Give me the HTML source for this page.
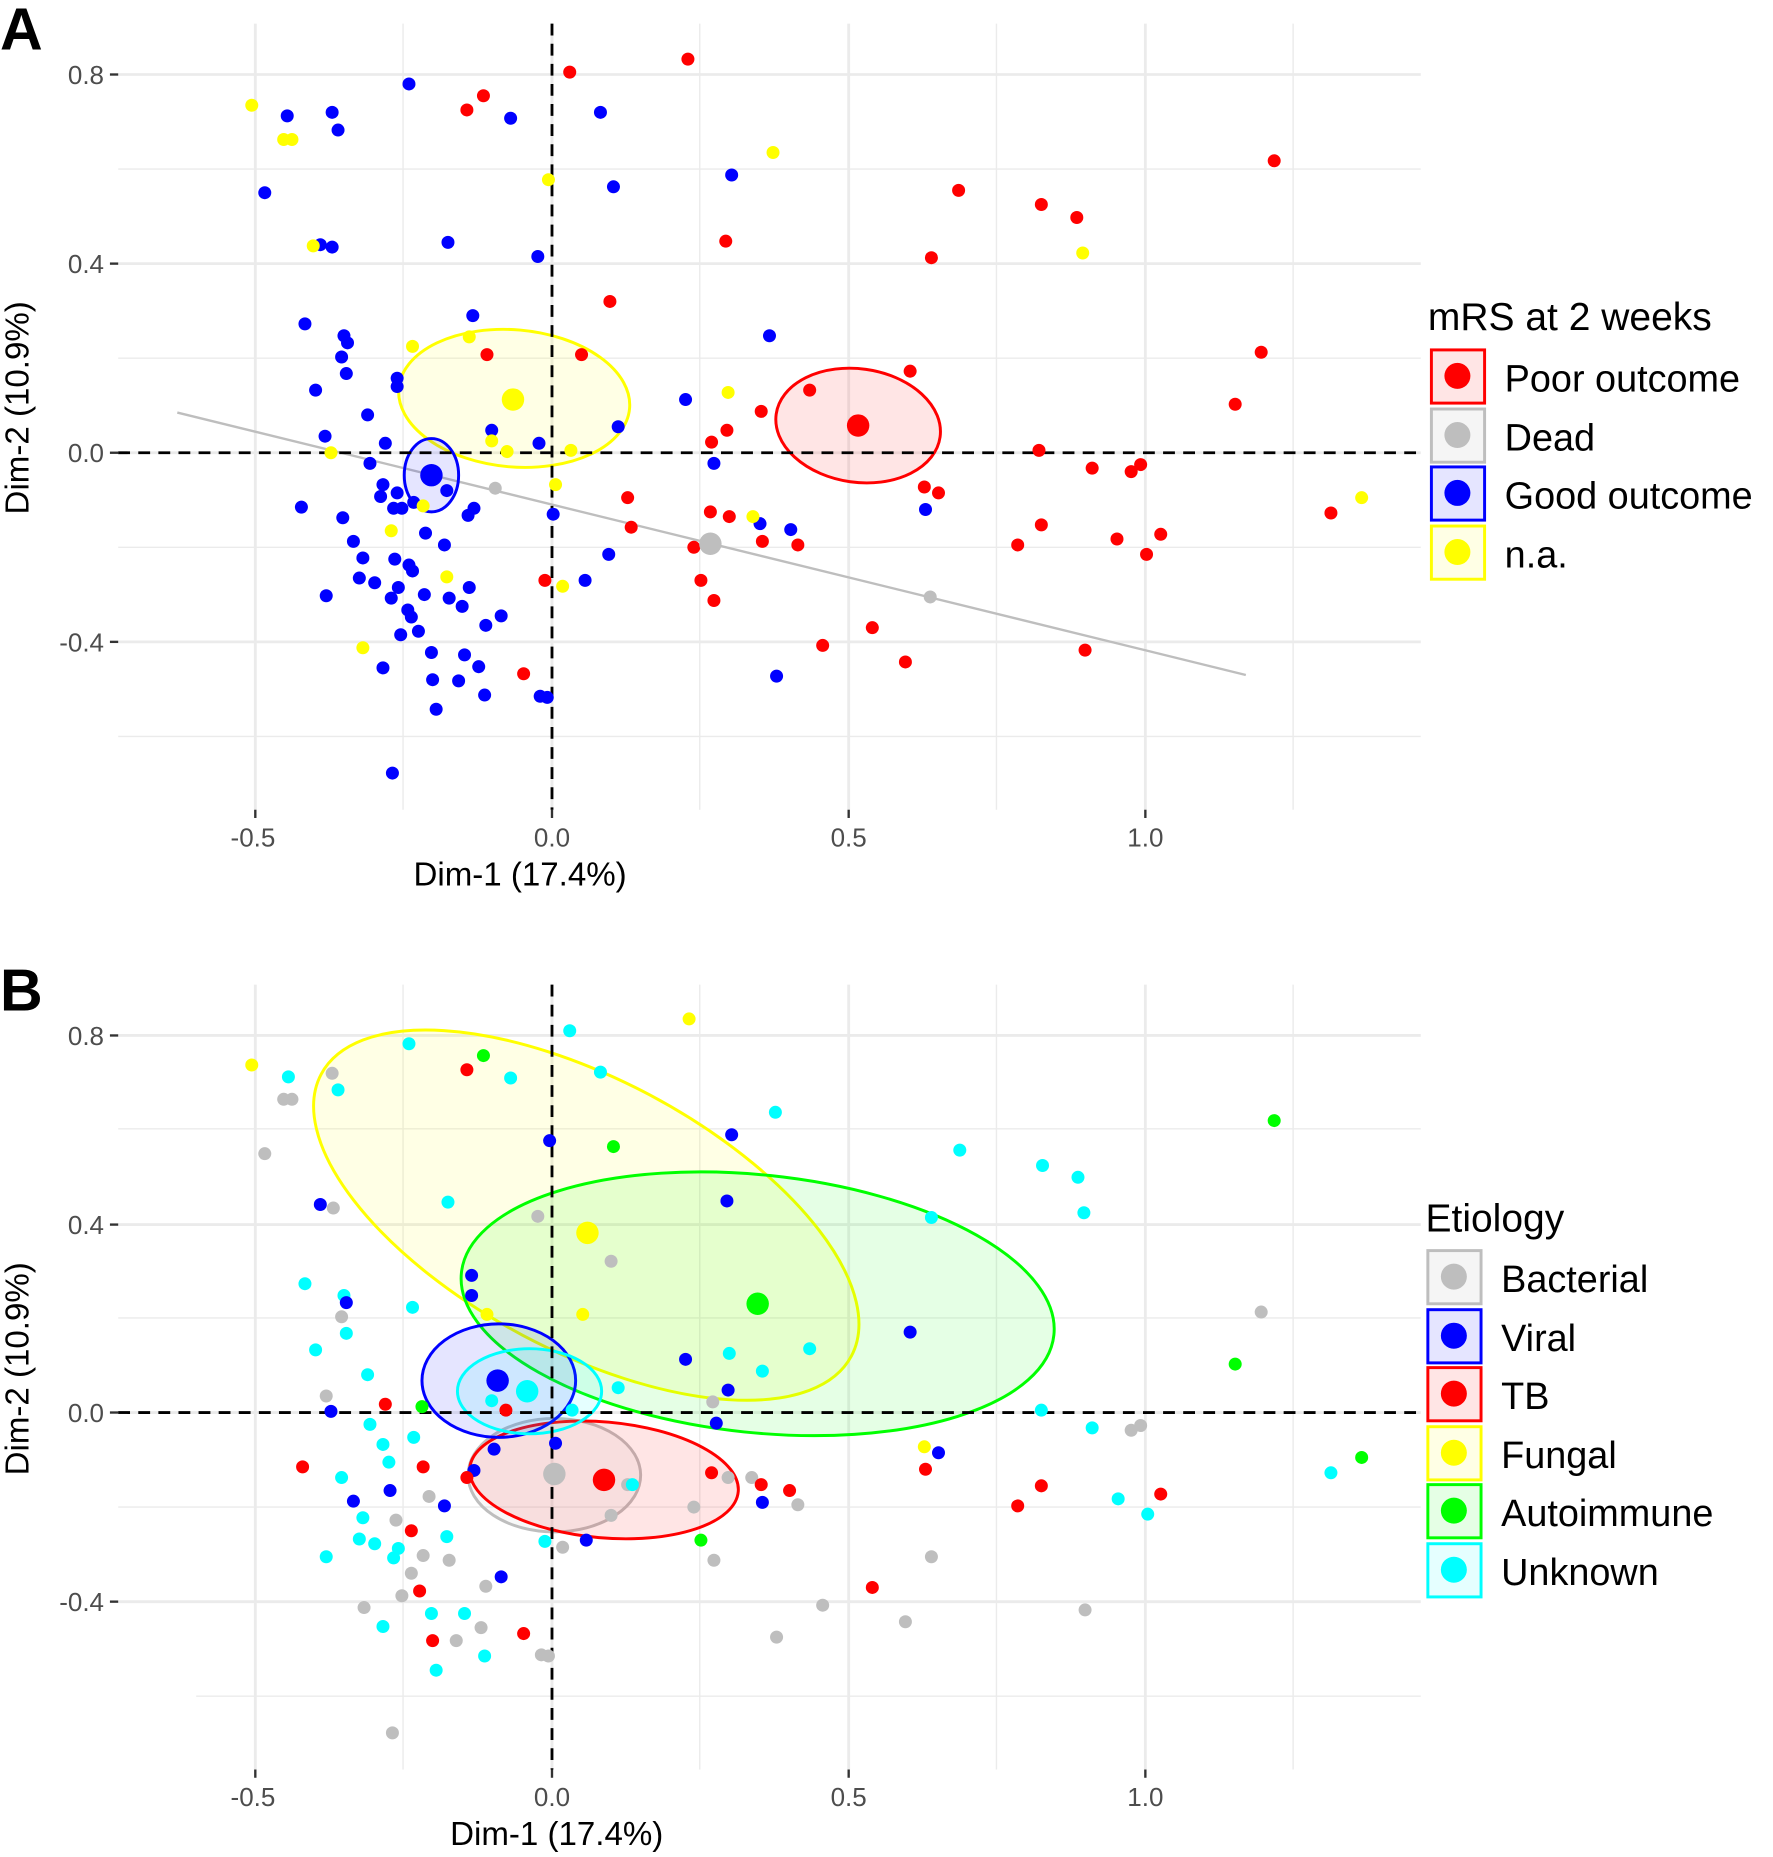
<!DOCTYPE html>
<html><head><meta charset="utf-8"><style>body{margin:0;background:#fff}svg{display:block}</style></head><body>
<svg width="1773" height="1857" viewBox="0 0 1500 1571" xmlns="http://www.w3.org/2000/svg" font-family="Liberation Sans, Arial, sans-serif">
<rect width="1500" height="1571" fill="#fff"/>
<!-- PANEL A -->
<g stroke="#ebebeb" stroke-width="1.2">
<line x1="100" x2="1202" y1="143" y2="143"/><line x1="100" x2="1202" y1="303" y2="303"/><line x1="100" x2="1202" y1="463" y2="463"/><line x1="100" x2="1202" y1="623" y2="623"/>
<line x1="341" x2="341" y1="20" y2="685"/><line x1="592" x2="592" y1="20" y2="685"/><line x1="843" x2="843" y1="20" y2="685"/><line x1="1094" x2="1094" y1="20" y2="685"/>
</g>
<g stroke="#ebebeb" stroke-width="2.4">
<line x1="100" x2="1202" y1="63" y2="63"/><line x1="100" x2="1202" y1="223" y2="223"/><line x1="100" x2="1202" y1="383" y2="383"/><line x1="100" x2="1202" y1="543" y2="543"/>
<line x1="216" x2="216" y1="20" y2="685"/><line x1="467" x2="467" y1="20" y2="685"/><line x1="718" x2="718" y1="20" y2="685"/><line x1="969" x2="969" y1="20" y2="685"/>
</g>
<g stroke="#333" stroke-width="2"><line x1="93" x2="100" y1="63" y2="63"/><line x1="93" x2="100" y1="223" y2="223"/><line x1="93" x2="100" y1="383" y2="383"/><line x1="93" x2="100" y1="543" y2="543"/>
<line x1="216" x2="216" y1="685" y2="692"/><line x1="467" x2="467" y1="685" y2="692"/><line x1="718" x2="718" y1="685" y2="692"/><line x1="969" x2="969" y1="685" y2="692"/></g>
<g fill="#4d4d4d" font-size="22" text-anchor="end"><text x="88" y="71">0.8</text><text x="88" y="231">0.4</text><text x="88" y="391">0.0</text><text x="88" y="551">-0.4</text></g>
<g fill="#4d4d4d" font-size="22" text-anchor="middle"><text x="214" y="716">-0.5</text><text x="467" y="716">0.0</text><text x="718" y="716">0.5</text><text x="969" y="716">1.0</text></g>
<text x="440" y="749" font-size="28" text-anchor="middle">Dim-1 (17.4%)</text>
<text transform="translate(24,345) rotate(-90)" font-size="28" text-anchor="middle">Dim-2 (10.9%)</text>
<text x="0" y="42" font-size="50" font-weight="bold">A</text>
<line x1="150" y1="349" x2="1054" y2="571" stroke="#bebebe" stroke-width="2"/>
<ellipse cx="435" cy="337" rx="98" ry="58" transform="rotate(5 435 337)" fill="#ffff00" fill-opacity="0.1" stroke="#ffff00" stroke-width="2.5"/>
<ellipse cx="726" cy="360" rx="70" ry="48" transform="rotate(8 726 360)" fill="#ff0000" fill-opacity="0.1" stroke="#ff0000" stroke-width="2.5"/>
<ellipse cx="365" cy="402" rx="23" ry="31" fill="#0000ff" fill-opacity="0.1" stroke="#0000ff" stroke-width="2.5"/>
<g stroke="#000" stroke-width="2.4" stroke-dasharray="10,7"><line x1="100" x2="1202" y1="383" y2="383"/><line x1="467" x2="467" y1="20" y2="685"/></g>
<g fill="#ff0000">
<circle cx="582" cy="50" r="5.5"/><circle cx="482" cy="61" r="5.5"/><circle cx="409" cy="81" r="5.5"/><circle cx="395" cy="93" r="5.5"/><circle cx="1078" cy="136" r="5.5"/><circle cx="811" cy="161" r="5.5"/><circle cx="881" cy="173" r="5.5"/><circle cx="911" cy="184" r="5.5"/><circle cx="614" cy="204" r="5.5"/><circle cx="788" cy="218" r="5.5"/><circle cx="516" cy="255" r="5.5"/><circle cx="1067" cy="298" r="5.5"/><circle cx="412" cy="300" r="5.5"/><circle cx="492" cy="300" r="5.5"/><circle cx="770" cy="314" r="5.5"/><circle cx="685" cy="330" r="5.5"/><circle cx="644" cy="348" r="5.5"/><circle cx="615" cy="364" r="5.5"/><circle cx="602" cy="374" r="5.5"/><circle cx="1045" cy="342" r="5.5"/><circle cx="879" cy="381" r="5.5"/><circle cx="924" cy="396" r="5.5"/><circle cx="965" cy="393" r="5.5"/><circle cx="957" cy="399" r="5.5"/><circle cx="782" cy="412" r="5.5"/><circle cx="794" cy="417" r="5.5"/><circle cx="531" cy="421" r="5.5"/><circle cx="601" cy="433" r="5.5"/><circle cx="617" cy="437" r="5.5"/><circle cx="534" cy="446" r="5.5"/><circle cx="881" cy="444" r="5.5"/><circle cx="945" cy="456" r="5.5"/><circle cx="982" cy="452" r="5.5"/><circle cx="587" cy="463" r="5.5"/><circle cx="645" cy="458" r="5.5"/><circle cx="675" cy="461" r="5.5"/><circle cx="861" cy="461" r="5.5"/><circle cx="970" cy="469" r="5.5"/><circle cx="461" cy="491" r="5.5"/><circle cx="593" cy="491" r="5.5"/><circle cx="604" cy="508" r="5.5"/><circle cx="738" cy="531" r="5.5"/><circle cx="696" cy="546" r="5.5"/><circle cx="766" cy="560" r="5.5"/><circle cx="918" cy="550" r="5.5"/><circle cx="443" cy="570" r="5.5"/><circle cx="1126" cy="434" r="5.5"/><circle cx="726" cy="360" r="9.5"/>
</g>
<g fill="#0000ff">
<circle cx="346" cy="71" r="5.5"/><circle cx="243" cy="98" r="5.5"/><circle cx="281" cy="95" r="5.5"/><circle cx="286" cy="110" r="5.5"/><circle cx="432" cy="100" r="5.5"/><circle cx="508" cy="95" r="5.5"/><circle cx="224" cy="163" r="5.5"/><circle cx="519" cy="158" r="5.5"/><circle cx="619" cy="148" r="5.5"/><circle cx="271" cy="207" r="5.5"/><circle cx="281" cy="209" r="5.5"/><circle cx="379" cy="205" r="5.5"/><circle cx="455" cy="217" r="5.5"/><circle cx="258" cy="274" r="5.5"/><circle cx="291" cy="284" r="5.5"/><circle cx="294" cy="290" r="5.5"/><circle cx="400" cy="267" r="5.5"/><circle cx="289" cy="302" r="5.5"/><circle cx="293" cy="316" r="5.5"/><circle cx="267" cy="330" r="5.5"/><circle cx="336" cy="320" r="5.5"/><circle cx="336" cy="327" r="5.5"/><circle cx="651" cy="284" r="5.5"/><circle cx="580" cy="338" r="5.5"/><circle cx="311" cy="351" r="5.5"/><circle cx="416" cy="364" r="5.5"/><circle cx="523" cy="361" r="5.5"/><circle cx="275" cy="369" r="5.5"/><circle cx="326" cy="375" r="5.5"/><circle cx="456" cy="375" r="5.5"/><circle cx="604" cy="392" r="5.5"/><circle cx="313" cy="392" r="5.5"/><circle cx="324" cy="410" r="5.5"/><circle cx="322" cy="420" r="5.5"/><circle cx="255" cy="429" r="5.5"/><circle cx="290" cy="438" r="5.5"/><circle cx="336" cy="417" r="5.5"/><circle cx="333" cy="430" r="5.5"/><circle cx="340" cy="430" r="5.5"/><circle cx="350" cy="425" r="5.5"/><circle cx="378" cy="415" r="5.5"/><circle cx="401" cy="430" r="5.5"/><circle cx="396" cy="436" r="5.5"/><circle cx="468" cy="435" r="5.5"/><circle cx="643" cy="443" r="5.5"/><circle cx="669" cy="448" r="5.5"/><circle cx="783" cy="431" r="5.5"/><circle cx="299" cy="458" r="5.5"/><circle cx="307" cy="472" r="5.5"/><circle cx="360" cy="451" r="5.5"/><circle cx="376" cy="461" r="5.5"/><circle cx="334" cy="473" r="5.5"/><circle cx="346" cy="478" r="5.5"/><circle cx="349" cy="483" r="5.5"/><circle cx="304" cy="489" r="5.5"/><circle cx="317" cy="493" r="5.5"/><circle cx="337" cy="497" r="5.5"/><circle cx="331" cy="506" r="5.5"/><circle cx="359" cy="503" r="5.5"/><circle cx="276" cy="504" r="5.5"/><circle cx="397" cy="497" r="5.5"/><circle cx="380" cy="506" r="5.5"/><circle cx="391" cy="513" r="5.5"/><circle cx="424" cy="521" r="5.5"/><circle cx="411" cy="529" r="5.5"/><circle cx="345" cy="516" r="5.5"/><circle cx="348" cy="522" r="5.5"/><circle cx="354" cy="534" r="5.5"/><circle cx="339" cy="537" r="5.5"/><circle cx="365" cy="552" r="5.5"/><circle cx="393" cy="554" r="5.5"/><circle cx="405" cy="564" r="5.5"/><circle cx="324" cy="565" r="5.5"/><circle cx="366" cy="575" r="5.5"/><circle cx="388" cy="576" r="5.5"/><circle cx="410" cy="588" r="5.5"/><circle cx="369" cy="600" r="5.5"/><circle cx="457" cy="589" r="5.5"/><circle cx="463" cy="590" r="5.5"/><circle cx="515" cy="469" r="5.5"/><circle cx="495" cy="491" r="5.5"/><circle cx="657" cy="572" r="5.5"/><circle cx="332" cy="654" r="5.5"/><circle cx="365" cy="402" r="9.5"/>
</g>
<g fill="#ffff00">
<circle cx="213" cy="89" r="5.5"/><circle cx="240" cy="118" r="5.5"/><circle cx="247" cy="118" r="5.5"/><circle cx="265" cy="208" r="5.5"/><circle cx="464" cy="152" r="5.5"/><circle cx="654" cy="129" r="5.5"/><circle cx="916" cy="214" r="5.5"/><circle cx="349" cy="293" r="5.5"/><circle cx="397" cy="285" r="5.5"/><circle cx="616" cy="332" r="5.5"/><circle cx="416" cy="373" r="5.5"/><circle cx="429" cy="382" r="5.5"/><circle cx="483" cy="381" r="5.5"/><circle cx="280" cy="383" r="5.5"/><circle cx="470" cy="410" r="5.5"/><circle cx="358" cy="428" r="5.5"/><circle cx="637" cy="437" r="5.5"/><circle cx="331" cy="449" r="5.5"/><circle cx="378" cy="488" r="5.5"/><circle cx="476" cy="496" r="5.5"/><circle cx="307" cy="548" r="5.5"/><circle cx="1152" cy="421" r="5.5"/><circle cx="434" cy="338" r="9.5"/>
</g>
<g fill="#bebebe"><circle cx="419" cy="413" r="5.5"/><circle cx="787" cy="505" r="5.5"/><circle cx="601" cy="460" r="9.5"/></g>
<text x="1208" y="279" font-size="33">mRS at 2 weeks</text>
<g stroke-width="2.5">
<rect x="1211" y="296" width="45" height="45" fill="#ffe5e5" stroke="#ff0000"/>
<rect x="1211" y="346" width="45" height="45" fill="#f5f5f5" stroke="#bebebe"/>
<rect x="1211" y="395" width="45" height="45" fill="#e5e5ff" stroke="#0000ff"/>
<rect x="1211" y="445" width="45" height="45" fill="#ffffe5" stroke="#ffff00"/>
</g>
<circle cx="1233" cy="318" r="11" fill="#ff0000"/><circle cx="1233" cy="368" r="11" fill="#bebebe"/><circle cx="1233" cy="417" r="11" fill="#0000ff"/><circle cx="1233" cy="467" r="11" fill="#ffff00"/>
<g font-size="32"><text x="1273" y="331">Poor outcome</text><text x="1273" y="381">Dead</text><text x="1273" y="430">Good outcome</text><text x="1273" y="480">n.a.</text></g>

<!-- PANEL B -->
<g stroke="#ebebeb" stroke-width="1.2">
<line x1="100" x2="1202" y1="955" y2="955"/><line x1="100" x2="1202" y1="1115" y2="1115"/><line x1="100" x2="1202" y1="1275" y2="1275"/><line x1="166" x2="1202" y1="1435" y2="1435"/>
<line x1="341" x2="341" y1="833" y2="1497"/><line x1="592" x2="592" y1="833" y2="1497"/><line x1="843" x2="843" y1="833" y2="1497"/><line x1="1094" x2="1094" y1="833" y2="1497"/>
</g>
<g stroke="#ebebeb" stroke-width="2.4">
<line x1="100" x2="1202" y1="876" y2="876"/><line x1="100" x2="1202" y1="1036" y2="1036"/><line x1="100" x2="1202" y1="1195" y2="1195"/><line x1="100" x2="1202" y1="1355" y2="1355"/>
<line x1="216" x2="216" y1="833" y2="1497"/><line x1="467" x2="467" y1="833" y2="1497"/><line x1="718" x2="718" y1="833" y2="1497"/><line x1="969" x2="969" y1="833" y2="1497"/>
</g>
<g stroke="#333" stroke-width="2"><line x1="93" x2="100" y1="876" y2="876"/><line x1="93" x2="100" y1="1036" y2="1036"/><line x1="93" x2="100" y1="1195" y2="1195"/><line x1="93" x2="100" y1="1355" y2="1355"/>
<line x1="216" x2="216" y1="1497" y2="1504"/><line x1="467" x2="467" y1="1497" y2="1504"/><line x1="718" x2="718" y1="1497" y2="1504"/><line x1="969" x2="969" y1="1497" y2="1504"/></g>
<g fill="#4d4d4d" font-size="22" text-anchor="end"><text x="88" y="884">0.8</text><text x="88" y="1044">0.4</text><text x="88" y="1203">0.0</text><text x="88" y="1363">-0.4</text></g>
<g fill="#4d4d4d" font-size="22" text-anchor="middle"><text x="214" y="1528">-0.5</text><text x="467" y="1528">0.0</text><text x="718" y="1528">0.5</text><text x="969" y="1528">1.0</text></g>
<text x="471" y="1561" font-size="28" text-anchor="middle">Dim-1 (17.4%)</text>
<text transform="translate(24,1158) rotate(-90)" font-size="28" text-anchor="middle">Dim-2 (10.9%)</text>
<text x="0" y="855" font-size="50" font-weight="bold">B</text>
<ellipse cx="496" cy="1028" rx="254" ry="115" transform="rotate(28 496 1028)" fill="#ffff00" fill-opacity="0.1" stroke="#ffff00" stroke-width="2.5"/>
<ellipse cx="641" cy="1103" rx="252" ry="109" transform="rotate(6 641 1103)" fill="#00ff00" fill-opacity="0.1" stroke="#00ff00" stroke-width="2.5"/>
<ellipse cx="469" cy="1248" rx="73" ry="48" fill="#bebebe" fill-opacity="0.1" stroke="#bebebe" stroke-width="2.5"/>
<ellipse cx="511" cy="1252" rx="114" ry="49" transform="rotate(5 511 1252)" fill="#ff0000" fill-opacity="0.1" stroke="#ff0000" stroke-width="2.5"/>
<ellipse cx="422" cy="1168" rx="65" ry="48" fill="#0000ff" fill-opacity="0.1" stroke="#0000ff" stroke-width="2.5"/>
<ellipse cx="448" cy="1177" rx="61" ry="36" fill="#00ffff" fill-opacity="0.1" stroke="#00ffff" stroke-width="2.5"/>
<g stroke="#000" stroke-width="2.4" stroke-dasharray="10,7"><line x1="100" x2="1202" y1="1195" y2="1195"/><line x1="467" x2="467" y1="833" y2="1497"/></g>
<g fill="#bebebe">
<circle cx="224" cy="976" r="5.5"/><circle cx="240" cy="930" r="5.5"/><circle cx="247" cy="930" r="5.5"/><circle cx="281" cy="908" r="5.5"/><circle cx="282" cy="1022" r="5.5"/><circle cx="289" cy="1114" r="5.5"/><circle cx="276" cy="1181" r="5.5"/><circle cx="363" cy="1266" r="5.5"/><circle cx="335" cy="1286" r="5.5"/><circle cx="380" cy="1320" r="5.5"/><circle cx="358" cy="1316" r="5.5"/><circle cx="348" cy="1331" r="5.5"/><circle cx="411" cy="1342" r="5.5"/><circle cx="308" cy="1360" r="5.5"/><circle cx="386" cy="1388" r="5.5"/><circle cx="407" cy="1377" r="5.5"/><circle cx="458" cy="1400" r="5.5"/><circle cx="464" cy="1401" r="5.5"/><circle cx="340" cy="1350" r="5.5"/><circle cx="332" cy="1466" r="5.5"/><circle cx="696" cy="1358" r="5.5"/><circle cx="766" cy="1372" r="5.5"/><circle cx="918" cy="1362" r="5.5"/><circle cx="657" cy="1385" r="5.5"/><circle cx="604" cy="1320" r="5.5"/><circle cx="587" cy="1275" r="5.5"/><circle cx="616" cy="1250" r="5.5"/><circle cx="636" cy="1250" r="5.5"/><circle cx="675" cy="1273" r="5.5"/><circle cx="788" cy="1317" r="5.5"/><circle cx="957" cy="1210" r="5.5"/><circle cx="965" cy="1206" r="5.5"/><circle cx="1067" cy="1110" r="5.5"/><circle cx="517" cy="1067" r="5.5"/><circle cx="455" cy="1029" r="5.5"/><circle cx="603" cy="1186" r="5.5"/><circle cx="476" cy="1309" r="5.5"/><circle cx="517" cy="1282" r="5.5"/><circle cx="531" cy="1256" r="5.5"/><circle cx="469" cy="1247" r="9.5"/>
</g>
<g fill="#00ffff">
<circle cx="482" cy="872" r="5.5"/><circle cx="346" cy="883" r="5.5"/><circle cx="244" cy="911" r="5.5"/><circle cx="286" cy="922" r="5.5"/><circle cx="432" cy="912" r="5.5"/><circle cx="508" cy="907" r="5.5"/><circle cx="656" cy="941" r="5.5"/><circle cx="812" cy="973" r="5.5"/><circle cx="882" cy="986" r="5.5"/><circle cx="912" cy="996" r="5.5"/><circle cx="917" cy="1026" r="5.5"/><circle cx="788" cy="1030" r="5.5"/><circle cx="379" cy="1017" r="5.5"/><circle cx="258" cy="1086" r="5.5"/><circle cx="291" cy="1096" r="5.5"/><circle cx="349" cy="1106" r="5.5"/><circle cx="293" cy="1128" r="5.5"/><circle cx="267" cy="1142" r="5.5"/><circle cx="311" cy="1163" r="5.5"/><circle cx="617" cy="1145" r="5.5"/><circle cx="645" cy="1160" r="5.5"/><circle cx="685" cy="1141" r="5.5"/><circle cx="523" cy="1174" r="5.5"/><circle cx="313" cy="1205" r="5.5"/><circle cx="350" cy="1216" r="5.5"/><circle cx="324" cy="1222" r="5.5"/><circle cx="329" cy="1237" r="5.5"/><circle cx="289" cy="1250" r="5.5"/><circle cx="307" cy="1284" r="5.5"/><circle cx="304" cy="1302" r="5.5"/><circle cx="317" cy="1306" r="5.5"/><circle cx="337" cy="1310" r="5.5"/><circle cx="333" cy="1318" r="5.5"/><circle cx="378" cy="1300" r="5.5"/><circle cx="276" cy="1317" r="5.5"/><circle cx="365" cy="1365" r="5.5"/><circle cx="393" cy="1365" r="5.5"/><circle cx="324" cy="1376" r="5.5"/><circle cx="369" cy="1413" r="5.5"/><circle cx="410" cy="1401" r="5.5"/><circle cx="881" cy="1193" r="5.5"/><circle cx="924" cy="1208" r="5.5"/><circle cx="946" cy="1268" r="5.5"/><circle cx="971" cy="1281" r="5.5"/><circle cx="1126" cy="1246" r="5.5"/><circle cx="461" cy="1304" r="5.5"/><circle cx="416" cy="1185" r="5.5"/><circle cx="484" cy="1193" r="5.5"/><circle cx="535" cy="1256" r="5.5"/><circle cx="446" cy="1177" r="9.5"/>
</g>
<g fill="#0000ff">
<circle cx="271" cy="1019" r="5.5"/><circle cx="293" cy="1102" r="5.5"/><circle cx="280" cy="1194" r="5.5"/><circle cx="465" cy="965" r="5.5"/><circle cx="619" cy="960" r="5.5"/><circle cx="615" cy="1016" r="5.5"/><circle cx="770" cy="1127" r="5.5"/><circle cx="399" cy="1079" r="5.5"/><circle cx="399" cy="1096" r="5.5"/><circle cx="580" cy="1150" r="5.5"/><circle cx="616" cy="1176" r="5.5"/><circle cx="606" cy="1204" r="5.5"/><circle cx="794" cy="1229" r="5.5"/><circle cx="645" cy="1271" r="5.5"/><circle cx="401" cy="1244" r="5.5"/><circle cx="418" cy="1226" r="5.5"/><circle cx="470" cy="1221" r="5.5"/><circle cx="330" cy="1261" r="5.5"/><circle cx="299" cy="1270" r="5.5"/><circle cx="376" cy="1274" r="5.5"/><circle cx="424" cy="1334" r="5.5"/><circle cx="496" cy="1303" r="5.5"/><circle cx="421" cy="1168" r="9.5"/>
</g>
<g fill="#ff0000">
<circle cx="395" cy="905" r="5.5"/><circle cx="326" cy="1188" r="5.5"/><circle cx="428" cy="1193" r="5.5"/><circle cx="256" cy="1241" r="5.5"/><circle cx="358" cy="1241" r="5.5"/><circle cx="395" cy="1250" r="5.5"/><circle cx="602" cy="1246" r="5.5"/><circle cx="644" cy="1256" r="5.5"/><circle cx="668" cy="1261" r="5.5"/><circle cx="783" cy="1243" r="5.5"/><circle cx="861" cy="1274" r="5.5"/><circle cx="881" cy="1257" r="5.5"/><circle cx="982" cy="1264" r="5.5"/><circle cx="348" cy="1295" r="5.5"/><circle cx="355" cy="1346" r="5.5"/><circle cx="366" cy="1388" r="5.5"/><circle cx="443" cy="1382" r="5.5"/><circle cx="738" cy="1343" r="5.5"/><circle cx="511" cy="1252" r="9.5"/>
</g>
<g fill="#ffff00"><circle cx="213" cy="901" r="5.5"/><circle cx="583" cy="862" r="5.5"/><circle cx="493" cy="1112" r="5.5"/><circle cx="412" cy="1112" r="5.5"/><circle cx="782" cy="1224" r="5.5"/><circle cx="497" cy="1043" r="9.5"/></g>
<g fill="#00ff00"><circle cx="409" cy="893" r="5.5"/><circle cx="519" cy="970" r="5.5"/><circle cx="1078" cy="948" r="5.5"/><circle cx="357" cy="1190" r="5.5"/><circle cx="593" cy="1303" r="5.5"/><circle cx="1045" cy="1154" r="5.5"/><circle cx="1152" cy="1233" r="5.5"/><circle cx="641" cy="1103" r="9.5"/></g>
<text x="1206" y="1042" font-size="33">Etiology</text>
<g stroke-width="2.5">
<rect x="1208" y="1058" width="45" height="45" fill="#f5f5f5" stroke="#bebebe"/>
<rect x="1208" y="1108" width="45" height="45" fill="#e5e5ff" stroke="#0000ff"/>
<rect x="1208" y="1157" width="45" height="45" fill="#ffe5e5" stroke="#ff0000"/>
<rect x="1208" y="1207" width="45" height="45" fill="#ffffe5" stroke="#ffff00"/>
<rect x="1208" y="1256" width="45" height="45" fill="#e5ffe5" stroke="#00ff00"/>
<rect x="1208" y="1306" width="45" height="45" fill="#e5ffff" stroke="#00ffff"/>
</g>
<circle cx="1230" cy="1080" r="11" fill="#bebebe"/><circle cx="1230" cy="1130" r="11" fill="#0000ff"/><circle cx="1230" cy="1179" r="11" fill="#ff0000"/><circle cx="1230" cy="1229" r="11" fill="#ffff00"/><circle cx="1230" cy="1278" r="11" fill="#00ff00"/><circle cx="1230" cy="1328" r="11" fill="#00ffff"/>
<g font-size="32"><text x="1270" y="1093">Bacterial</text><text x="1270" y="1143">Viral</text><text x="1270" y="1192">TB</text><text x="1270" y="1242">Fungal</text><text x="1270" y="1291">Autoimmune</text><text x="1270" y="1341">Unknown</text></g>
</svg>
</body></html>
